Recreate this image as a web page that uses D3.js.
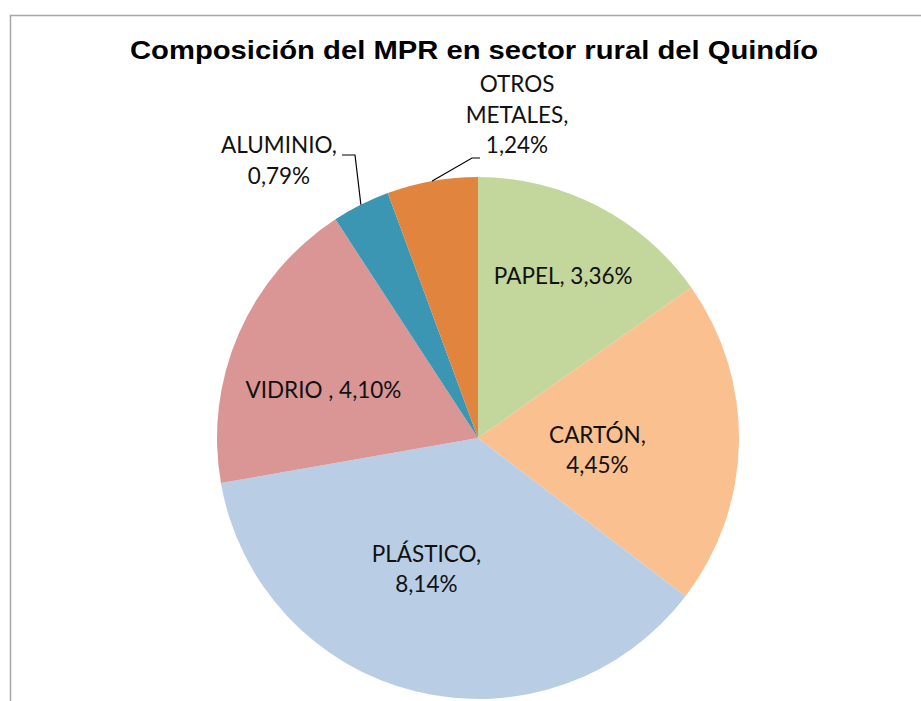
<!DOCTYPE html>
<html>
<head>
<meta charset="utf-8">
<script src="https://cdn.jsdelivr.net/npm/d3@7"></script>
<style>
  html, body { margin: 0; padding: 0; background: #fff; }
  svg { display: block; }
</style>
</head>
<body>
<svg id="chart" width="921" height="701"></svg>
<script>
// ---- data ----
const categories = ["PAPEL", "CARTÓN", "PLÁSTICO", "VIDRIO ", "ALUMINIO", "OTROS METALES"];
const values = [3.36, 4.45, 8.14, 4.10, 0.79, 1.24];
const valueLabels = ["3,36%", "4,45%", "8,14%", "4,10%", "0,79%", "1,24%"];
const labelLines = [
  ["PAPEL, 3,36%"],
  ["CARTÓN,", "4,45%"],
  ["PLÁSTICO,", "8,14%"],
  ["VIDRIO , 4,10%"],
  ["ALUMINIO,", "0,79%"],
  ["OTROS", "METALES,", "1,24%"]
];
const colors = ["#c3d69b", "#fac08f", "#b9cde5", "#d99694", "#3b96b3", "#e1843e"];
const title = "Composición del MPR en sector rural del Quindío";

// ---- layout ----
const W = 921, H = 701;
const cx = 478, cy = 438, R = 261;
const labelLayout = [
  {type: "in", r: 0.70, a: 27.8},
  {type: "in", r: 0.46, a: 95.7},
  {type: "in", r: 0.54, a: 201.5},
  {type: "in", r: 0.62, a: 287.2},
  {type: "out", x: 279, y: 153, lineY: 155, lineX: [342, 355]},
  {type: "out", x: 517, y: 92, lineY: 158, lineX: [480, 472]}
];
const lineH = 30.5;

const svg = d3.select("#chart");

// frame
svg.append("path")
  .attr("d", `M10.5,${H} L10.5,15.5 L${W},15.5`)
  .attr("fill", "none").attr("stroke", "#a6a6a6").attr("stroke-width", 1.5);

// title
svg.append("text")
  .attr("x", 474).attr("y", 59)
  .attr("text-anchor", "middle")
  .attr("font-family", "Liberation Sans, Arial, sans-serif")
  .attr("font-weight", "bold")
  .attr("font-size", 25)
  .attr("textLength", 688)
  .attr("lengthAdjust", "spacingAndGlyphs")
  .attr("fill", "#000")
  .text(title);

const data = categories.map((c, i) => ({cat: c, value: values[i], i}));
const pie = d3.pie().value(d => d.value).sort(null);
const arcs = pie(data);
const arc = d3.arc().innerRadius(0).outerRadius(R);

const g = svg.append("g").attr("transform", `translate(${cx},${cy})`);
g.selectAll("path.slice").data(arcs).enter().append("path")
  .attr("class", "slice")
  .attr("d", arc)
  .attr("fill", d => colors[d.data.i])
  .attr("stroke", "none");

const font = "Lato, 'Open Sans', sans-serif";
const fs = 22.5;

arcs.forEach((d, i) => {
  const L = labelLayout[i];
  const lines = labelLines[i];
  let x, y0;
  if (L.type === "in") {
    const ang = L.a * Math.PI / 180;
    const px = cx + R * L.r * Math.sin(ang);
    const py = cy - R * L.r * Math.cos(ang);
    x = px;
    y0 = py - (lines.length - 1) * lineH / 2 + fs * 0.36;
  } else {
    x = L.x;
    y0 = L.y;
    const mid = (d.startAngle + d.endAngle) / 2;
    const ex = cx + R * Math.sin(mid);
    const ey = cy - R * Math.cos(mid);
    svg.append("path")
      .attr("d", `M${L.lineX[0]},${L.lineY} L${L.lineX[1]},${L.lineY} L${ex},${ey}`)
      .attr("fill", "none").attr("stroke", "#000").attr("stroke-width", 1.2);
  }
  const t = svg.append("text")
    .attr("text-anchor", "middle")
    .attr("font-family", font)
    .attr("font-size", fs)
    .attr("fill", "#111");
  lines.forEach((ln, k) => {
    t.append("tspan").attr("x", x).attr("y", y0 + k * lineH).text(ln);
  });
});
</script>
</body>
</html>
